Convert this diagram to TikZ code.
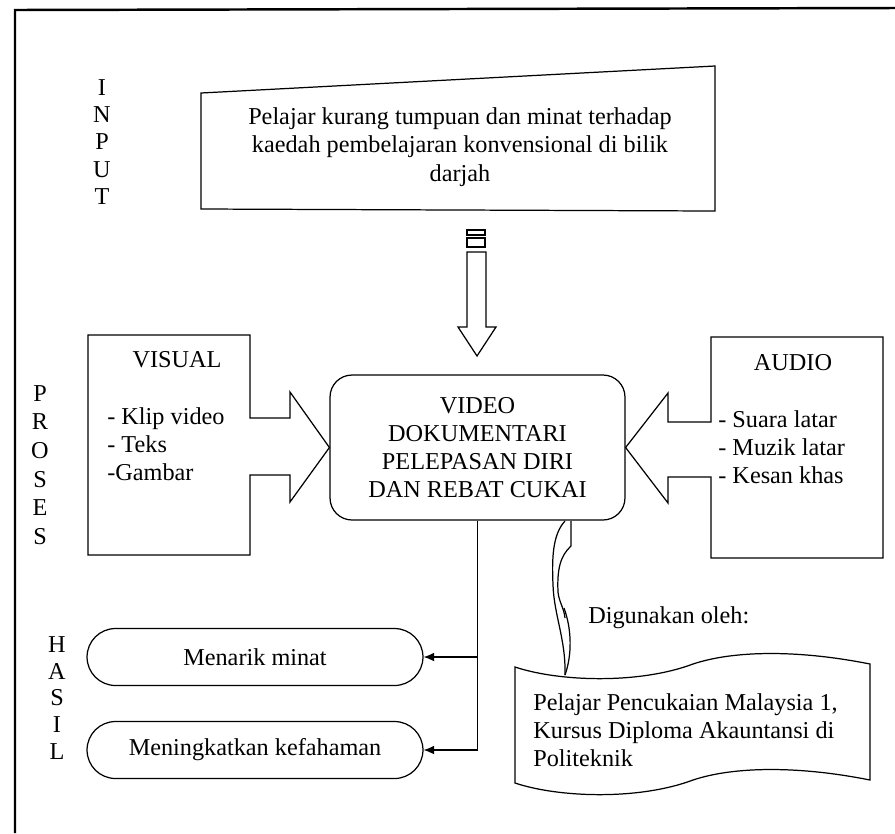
\documentclass[tikz,border=0pt]{standalone}
\usepackage{fontspec}
\setmainfont{Liberation Serif}
\usetikzlibrary{arrows.meta,shapes.misc}
\tikzset{
  txt/.style={font=\fontsize{13.8}{15.8}\selectfont, inner sep=0pt},
  lab/.style={txt, align=center},
  box/.style={draw, line width=0.7pt},
  outbox/.style={box, txt, rounded rectangle, minimum width=6.72cm, minimum height=1.14cm},
  conn/.style={line width=0.7pt, -{Latex[length=6pt,width=5pt]}},
}
\begin{document}
\begin{tikzpicture}[x=0.02cm, y=-0.02cm]
  \useasboundingbox (0,0) rectangle (895,833);
  % frame
  \draw[line width=1.4pt] (15,833) -- (15,10) -- (895,8);
  % stage labels
  \node[lab, font=\fontsize{13.8}{15.4}\selectfont] (inlab) at (102,142) {I\\N\\P\\U\\T};
  \node[lab, font=\fontsize{13.8}{16.3}\selectfont] (proslab) at (40,465) {P\\R\\O\\S\\E\\S};
  \node[lab, font=\fontsize{13.8}{15.3}\selectfont] (haslab) at (57,698) {H\\A\\S\\I\\L};
  % input
  \draw[box] (201,93) -- (715,66) -- (715,211) -- (201,209) -- cycle;
  \node[lab, font=\fontsize{13.8}{16.4}\selectfont] (input) at (460,147)
    {Pelajar kurang tumpuan dan minat terhadap\\kaedah pembelajaran konvensional di bilik\\darjah};
  % down arrow
  \draw[box] (467,230) rectangle (485,235);
  \draw[box] (467,238) rectangle (485,247);
  \draw[box] (467,252) -- (467,327) -- (458,327) -- (477,356) -- (496,327) -- (486,327) -- (486,252) -- cycle;
  % process
  \node[box, lab, rounded corners=0.44cm, minimum width=5.9cm, minimum height=2.9cm] (video) at (477.5,447.5)
    {VIDEO\\DOKUMENTARI\\PELEPASAN DIRI\\DAN REBAT CUKAI};
  % visual box with arrow
  \draw[box] (88,335) -- (250,335) -- (250,418) -- (290,418) -- (290,392) -- (video.west)
    -- (290,502) -- (290,475) -- (250,475) -- (250,555) -- (88,555) -- cycle;
  \node[txt] (vis) at (177,360) {VISUAL};
  \node[txt, align=left, anchor=west] (vislist) at (107,444) {- Klip video\\- Teks\\-Gambar};
  % audio box with arrow
  \draw[box] (711,337) -- (883,337) -- (883,558) -- (711,558) -- (711,477) -- (668,477) -- (668,503)
    -- (video.east) -- (668,393) -- (668,422) -- (711,422) -- cycle;
  \node[txt] (aud) at (793,363) {AUDIO};
  \node[txt, align=left, anchor=west] (audlist) at (718,447) {- Suara latar\\- Muzik latar\\- Kesan khas};
  % results
  \node[outbox] (minat) at (255,657) {Menarik minat};
  \node[outbox] (faham) at (255,750) {Meningkatkan kefahaman};
  \draw[conn] (video.south) |- (faham.east);
  \draw[conn] (video.south |- minat.east) -- (minat.east);
  % curved arrow to users
  \draw[box] (565,521) .. controls (552,535) and (552,560) .. (553,585)
    .. controls (554,615) and (566,640) .. (565,675);
  \draw[box] (571,521) -- (571,546) .. controls (560,556) and (557,570) .. (558,592)
    .. controls (559,602) and (564,608) .. (565,618);
  \draw[box] (564,608) .. controls (572,630) and (572,655) .. (565,675);
  \node[txt, anchor=west] (guna) at (588,618) {Digunakan oleh:};
  % users
  \draw[box] (515,667) .. controls (560,682) and (640,684) .. (693,664)
    .. controls (735,650) and (800,650) .. (870,664) -- (870,780)
    .. controls (800,766) and (735,766) .. (693,780)
    .. controls (640,800) and (560,798) .. (515,783) -- cycle;
  \node[txt, align=left, anchor=west] (users) at (533,730)
    {Pelajar Pencukaian Malaysia 1,\\Kursus Diploma Akauntansi di\\Politeknik};
\end{tikzpicture}
\end{document}
